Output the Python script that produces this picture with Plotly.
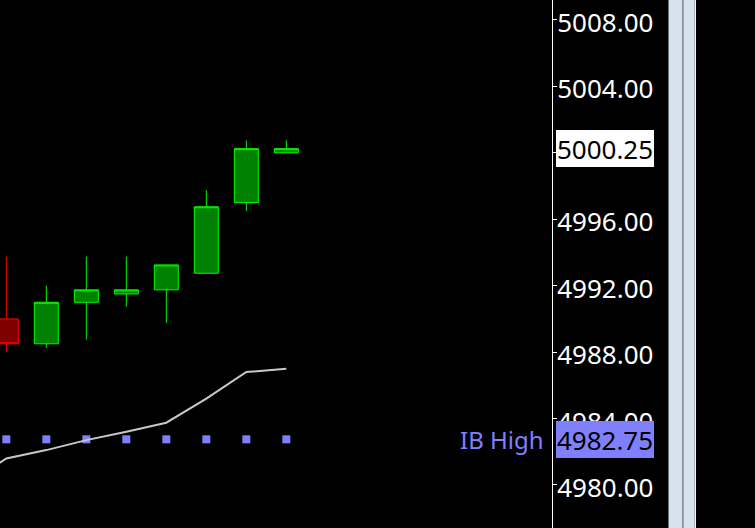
import plotly.graph_objects as go

# ---- data ----
bar_index = [0, 1, 2, 3, 4, 5, 6, 7]
opens = [4990.0, 4988.5, 4991.0, 4991.5, 4991.75, 4992.75, 4997.0, 5000.0]
highs = [4993.75, 4992.0, 4993.75, 4993.75, 4993.25, 4997.75, 5000.75, 5000.75]
lows = [4988.0, 4988.25, 4988.75, 4990.75, 4989.75, 4992.75, 4996.5, 5000.0]
closes = [4988.5, 4991.0, 4991.75, 4991.75, 4993.25, 4996.75, 5000.25, 5000.25]

avg_index = [-1, 0, 1, 2, 3, 4, 5, 6, 7]
avg_values = [4980.0, 4981.6, 4982.1, 4982.7, 4983.2, 4983.75, 4985.2, 4986.8, 4987.0]

ib_high = 4982.75
ib_label = "IB High"
last_price = 5000.25

tick_values = [4980, 4984, 4988, 4992, 4996, 5000, 5004, 5008]
hidden_ticks = [5000]  # covered by the last-price box in the reference
tick_labels = ["" if v in hidden_ticks else "%.2f" % v for v in tick_values]

# ---- styling ----
FONT = "Noto Sans"
FSIZE = 26
PLOT_W = 552.0
W, H = 755, 528


def px(p):
    return p / PLOT_W


fig = go.Figure()

fig.add_trace(go.Scatter(
    x=bar_index, y=[ib_high] * len(bar_index), mode="markers",
    marker=dict(symbol="square", size=8, color="#8080ff", line=dict(width=0)),
    hoverinfo="skip", showlegend=False))

fig.add_trace(go.Scatter(
    x=avg_index, y=avg_values, mode="lines",
    line=dict(color="#c8c8c8", width=2),
    hoverinfo="skip", showlegend=False))

fig.add_trace(go.Candlestick(
    x=bar_index, open=opens, high=highs, low=lows, close=closes,
    whiskerwidth=0,
    increasing=dict(line=dict(color="#00ff00", width=1), fillcolor="#008000"),
    decreasing=dict(line=dict(color="#ff0000", width=1), fillcolor="#800000"),
    showlegend=False))

shapes = [
    dict(type="rect", xref="paper", yref="paper", x0=px(668.5), x1=px(694.5), y0=0, y1=1,
         fillcolor="#d6e2ef", line=dict(width=0), layer="above"),
    dict(type="rect", xref="paper", yref="paper", x0=px(682.3), x1=px(683.5), y0=0, y1=1,
         fillcolor="#6a6a6a", line=dict(width=0), layer="above"),
    dict(type="rect", xref="paper", yref="paper", x0=px(694.5), x1=px(696), y0=0, y1=1,
         fillcolor="#f4f4f4", line=dict(width=0), layer="above"),
]

annotations = [
    dict(xref="paper", yref="y", x=1, y=last_price, xanchor="left", yanchor="middle",
         xshift=4, text="%.2f" % last_price, showarrow=False,
         font=dict(family=FONT, size=FSIZE, color="#000000"),
         bgcolor="#ffffff", width=98, height=37, borderpad=0, borderwidth=0, align="center"),
    dict(xref="paper", yref="y", x=1, y=ib_high, xanchor="left", yanchor="middle",
         xshift=4, text="%.2f" % ib_high, showarrow=False,
         font=dict(family=FONT, size=FSIZE, color="#000000"),
         bgcolor="#8080ff", width=98, height=37, borderpad=0, borderwidth=0, align="center"),
    dict(xref="paper", yref="y", x=1, y=ib_high, xanchor="right", yanchor="middle",
         xshift=-6, text=ib_label, showarrow=False,
         font=dict(family=FONT, size=24, color="#8080ff")),
]

fig.update_layout(
    width=W, height=H,
    margin=dict(l=0, r=W - PLOT_W, t=0, b=0, pad=0),
    paper_bgcolor="#000000", plot_bgcolor="#000000",
    boxgap=0.4, boxgroupgap=0,
    shapes=shapes, annotations=annotations,
    xaxis=dict(range=[-0.158, 13.642], visible=False, showgrid=False, zeroline=False,
               rangeslider=dict(visible=False), fixedrange=True),
    yaxis=dict(range=[4977.41, 5009.20], side="right", tickvals=tick_values, ticktext=tick_labels,
               tickfont=dict(family=FONT, size=FSIZE, color="#ffffff"),
               ticks="outside", ticklen=4, tickwidth=1, tickcolor="#ffffff",
               ticklabelshift=3, ticklabelstandoff=-5, ticklabeloverflow="allow",
               showline=True, linecolor="#ffffff", linewidth=1,
               showgrid=False, zeroline=False, fixedrange=True),
    showlegend=False,
)

fig.write_html("out.html", config={"displayModeBar": False},
               post_script="document.body.style.margin='0px';document.body.style.background='#000';")
